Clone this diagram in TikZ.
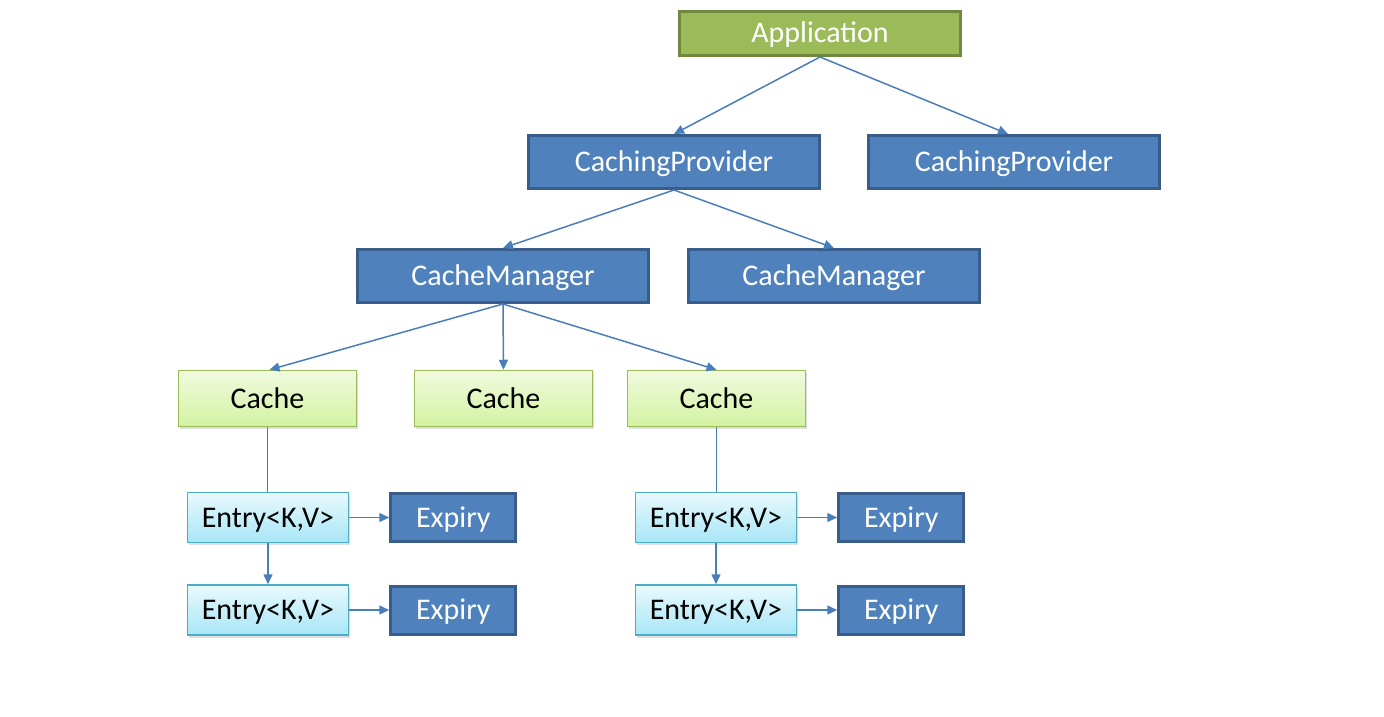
\documentclass[tikz,border=0pt]{standalone}
\usepackage{fontspec}
\setmainfont{Carlito}
\usetikzlibrary{arrows.meta,positioning,shadows}
\definecolor{appfill}{HTML}{9BBB59}
\definecolor{appline}{HTML}{71893F}
\definecolor{provfill}{HTML}{4F81BD}
\definecolor{provline}{HTML}{385D8A}
\definecolor{cachetop}{HTML}{F1FADF}
\definecolor{cachebot}{HTML}{D3F3A0}
\definecolor{entrytop}{HTML}{E8F9FD}
\definecolor{entrybot}{HTML}{A8E6F7}
\definecolor{entryline}{HTML}{4BACC6}
\definecolor{pilblue}{HTML}{4A7EBB}
\tikzset{
    %Define standard arrow tip
    >={Triangle[length=10pt,width=9pt]},
    %Define style for the dark boxes
    darkbox/.style={
           rectangle,
           line width=3pt,
           text=white,
           text height=19pt,
           text depth=0pt,
           font=\fontsize{30}{35}\selectfont},
    appbox/.style={
           darkbox,
           fill=appfill,
           draw=appline,
           minimum width=281pt,
           minimum height=44pt},
    provbox/.style={
           darkbox,
           fill=provfill,
           draw=provline,
           minimum width=291pt,
           minimum height=53pt},
    expirybox/.style={
           darkbox,
           fill=provfill,
           draw=provline,
           minimum width=125pt,
           minimum height=48pt},
    %Define style for the light boxes
    lightbox/.style={
           rectangle,
           line width=1.5pt,
           text=black,
           text height=19pt,
           text depth=0pt,
           font=\fontsize{30}{35}\selectfont,
           drop shadow={opacity=0.25,shadow xshift=1.5pt,shadow yshift=-2.5pt}},
    cachebox/.style={
           lightbox,
           top color=cachetop,
           bottom color=cachebot,
           draw=appfill,
           minimum width=178pt,
           minimum height=56pt},
    entrybox/.style={
           lightbox,
           top color=entrytop,
           bottom color=entrybot,
           draw=entryline,
           minimum width=161pt,
           minimum height=50pt},
    % Define arrow style
    pil/.style={
           ->,
           draw=pilblue,
           line width=1.5pt},
    rod/.style={
           draw=pilblue,
           line width=1.5pt}
}
\begin{document}
\begin{tikzpicture}[x=1pt,y=-1pt]
  \useasboundingbox (0,0) rectangle (1384,717);
  \node[appbox] (app) at (820,33.5) {Application};
  \node[provbox] (prov1) at (674,162) {CachingProvider};
  \node[provbox] (prov2) at (1014,162) {CachingProvider};
  \node[provbox] (mgr1) at (503,276) {CacheManager};
  \node[provbox] (mgr2) at (834,276) {CacheManager};
  \node[cachebox] (cache1) at (267.5,398.5) {Cache};
  \node[cachebox] (cache2) at (503.5,398.5) {Cache};
  \node[cachebox] (cache3) at (716.5,398.5) {Cache};
  \node[entrybox] (entry1) at (268,517.5) {Entry<K,V>};
  \node[entrybox,below=41pt of entry1] (entry2) {Entry<K,V>};
  \node[entrybox] (entry3) at (716,517.5) {Entry<K,V>};
  \node[entrybox,below=41pt of entry3] (entry4) {Entry<K,V>};
  \node[expirybox,right=40pt of entry1] (exp1) {Expiry};
  \node[expirybox,right=40pt of entry2] (exp2) {Expiry};
  \node[expirybox,right=40pt of entry3] (exp3) {Expiry};
  \node[expirybox,right=40pt of entry4] (exp4) {Expiry};

  \draw[pil] (app.south) -- (prov1.north);
  \draw[pil] (app.south) -- ([xshift=-6pt]prov2.north);
  \draw[pil] (prov1.south) -- (mgr1.north);
  \draw[pil] (prov1.south) -- (mgr2.north);
  \draw[pil] (mgr1.south) -- ([xshift=2pt]cache1.north);
  \draw[pil] (mgr1.south) -- (cache2.north);
  \draw[pil] (mgr1.south) -- (cache3.north);
  \draw[rod] (cache1.south) -- (cache1.south |- entry1.north);
  \draw[rod] (cache3.south) -- (cache3.south |- entry3.north);
  \draw[pil] (entry1) -- (entry2);
  \draw[pil] (entry3) -- (entry4);
  \foreach \e/\x in {entry1/exp1,entry2/exp2,entry3/exp3,entry4/exp4}
    \draw[pil] (\e) -- (\x);
\end{tikzpicture}
\end{document}
